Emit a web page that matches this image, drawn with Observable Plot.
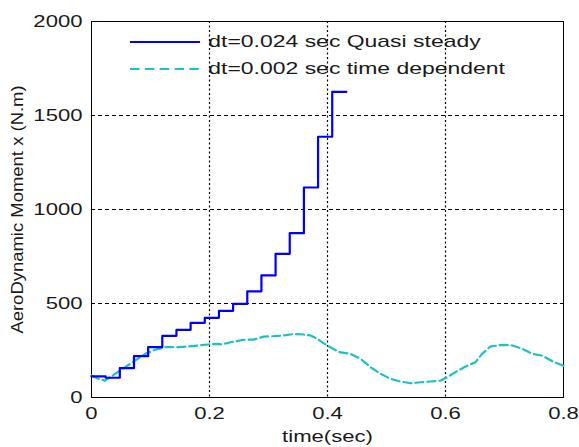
<!DOCTYPE html>
<html>
<head>
<meta charset="utf-8">
<script src="https://cdn.jsdelivr.net/npm/d3@7"></script>
<script src="https://cdn.jsdelivr.net/npm/@observablehq/plot@0.6"></script>
<style>
  body { margin: 0; background: #fff; }
  #wrap { position: relative; width: 579px; height: 447px; font-family: Arial, "Liberation Sans", sans-serif; }
  #legend { position: absolute; left: 130px; top: 28px; font-size: 17px; color: #1a1a1a; transform: scaleX(1.35); transform-origin: 0 0; }
  #legend .row { display: flex; align-items: center; height: 27px; }
  #legend svg { margin-right: 6px; }
</style>
</head>
<body>
<div id="wrap"></div>
<script>
// Quasi steady (dt = 0.024 s) stairs
const qsTime  = [0, 0.024, 0.048, 0.072, 0.096, 0.12, 0.144, 0.168, 0.192, 0.216, 0.24, 0.264, 0.288, 0.312, 0.336, 0.36, 0.384, 0.408, 0.432];
const qsValue = [112, 105, 156, 220, 268, 328, 360, 397, 424, 461, 498, 565, 650, 764, 874, 1117, 1387, 1626, 1626];

// Time dependent (dt = 0.002 s)
const tdTime  = [0, 0.012, 0.023, 0.04, 0.057, 0.074, 0.091, 0.108, 0.125, 0.147, 0.164, 0.181, 0.198, 0.21, 0.22, 0.236, 0.258, 0.275, 0.292, 0.309, 0.326, 0.343, 0.36, 0.371, 0.383, 0.40, 0.42, 0.439, 0.456, 0.473, 0.49, 0.507, 0.524, 0.541, 0.558, 0.575, 0.592, 0.603, 0.617, 0.634, 0.651, 0.662, 0.676, 0.696, 0.713, 0.73, 0.747, 0.764, 0.781, 0.8];
const tdValue = [117, 99, 90, 126, 161, 197, 232, 254, 268, 268, 271, 277, 282, 285, 282, 294, 307, 308, 324, 326, 330, 338, 335, 330, 312, 275, 241, 232, 206, 161, 126, 99, 85, 76, 81, 85, 90, 108, 135, 165, 188, 232, 271, 280, 277, 259, 232, 223, 193, 168];

const xTicks = [0, 0.2, 0.4, 0.6, 0.8];
const yTicks = [0, 500, 1000, 1500, 2000];
const seriesNames = ["dt=0.024 sec Quasi steady", "dt=0.002 sec time dependent"];
const seriesColors = ["#0000ff", "#1cc2c2"];

const qs = qsTime.map((t, i) => ({t, v: qsValue[i]}));
const td = tdTime.map((t, i) => ({t, v: tdValue[i]}));

const chart = Plot.plot({
  width: 579,
  height: 447,
  marginLeft: 91,
  marginRight: 16,
  marginTop: 21,
  marginBottom: 50,
  style: {fontFamily: "Arial, 'Liberation Sans', sans-serif", fontSize: "17px", color: "#1a1a1a", background: "#fff"},
  x: {domain: [0, 0.8]},
  y: {domain: [0, 2000]},
  marks: [
    Plot.gridX(xTicks.slice(1, -1), {stroke: "#000", strokeOpacity: 1, strokeWidth: 1.2, strokeDasharray: "2,2.5"}),
    Plot.gridY(yTicks.slice(1, -1), {stroke: "#000", strokeOpacity: 1, strokeWidth: 1, strokeDasharray: "4,3"}),
    Plot.frame({stroke: "#000"}),
    Plot.axisX(xTicks, {tickSize: 0, tickPadding: 9, tickFormat: d => d === 0 ? "0" : d.toFixed(1), label: "time(sec)", labelAnchor: "center", labelArrow: "none", labelOffset: 44}),
    Plot.axisY(yTicks, {tickSize: 0, tickPadding: 9, tickFormat: d => String(d), label: "AeroDynamic Moment x (N.m)", labelAnchor: "center", labelArrow: "none", labelOffset: 80})
      ,
    Plot.line(td, {x: "t", y: "v", stroke: seriesColors[1], strokeWidth: 2.2, strokeDasharray: "8,4", curve: "linear"}),
    Plot.line(qs, {x: "t", y: "v", stroke: seriesColors[0], strokeWidth: 2.2, curve: "step-after"})
  ]
});

// widen text horizontally to mimic the stretched reference glyphs
d3.select(chart).selectAll("text").each(function() {
  const tr = this.getAttribute("transform");
  const g = this.closest("g");
  const isYLabel = g && g.getAttribute("aria-label") === "y-axis label";
  if (isYLabel) {
    this.setAttribute("font-size", "16.5");
    this.setAttribute("transform", tr + " scale(1.12,1)");
  } else if (tr) {
    this.setAttribute("transform", tr + " scale(1.3,1)");
  }
});

const wrap = document.getElementById("wrap");
wrap.appendChild(chart);

const legend = document.createElement("div");
legend.id = "legend";
seriesNames.forEach((name, i) => {
  const row = document.createElement("div");
  row.className = "row";
  const dash = i === 1 ? ' stroke-dasharray="7,4"' : "";
  row.innerHTML = `<svg width="52" height="10"><line x1="0" y1="5" x2="52" y2="5" stroke="${seriesColors[i]}" stroke-width="2.2"${dash}/></svg><span>${name}</span>`;
  legend.appendChild(row);
});
wrap.appendChild(legend);
</script>
</body>
</html>
